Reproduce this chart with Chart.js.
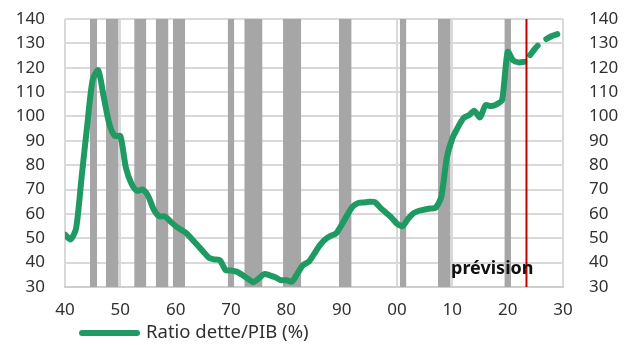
<!DOCTYPE html>
<html lang="fr">
<head>
<meta charset="utf-8">
<title>Ratio dette/PIB</title>
<script src="https://cdn.jsdelivr.net/npm/chart.js@4/dist/chart.umd.min.js"></script>
<style>
  html, body { margin: 0; padding: 0; background: #ffffff; }
  #wrap { width: 624px; height: 345px; position: relative; }
</style>
</head>
<body>
<div id="wrap"><canvas id="chart"></canvas></div>
<script>
// Ratio dette/PIB (%), annual observations
const years = [
  1940, 1941, 1942, 1943, 1944, 1945, 1946, 1947, 1948, 1949,
  1950, 1951, 1952, 1953, 1954, 1955, 1956, 1957, 1958, 1959,
  1960, 1961, 1962, 1963, 1964, 1965, 1966, 1967, 1968, 1969,
  1970, 1971, 1972, 1973, 1974, 1975, 1976, 1977, 1978, 1979,
  1980, 1981, 1982, 1983, 1984, 1985, 1986, 1987, 1988, 1989,
  1990, 1991, 1992, 1993, 1994, 1995, 1996, 1997, 1998, 1999,
  2000, 2001, 2002, 2003, 2004, 2005, 2006, 2007, 2008, 2009,
  2010, 2011, 2012, 2013, 2014, 2015, 2016, 2017, 2018, 2019,
  2020, 2021, 2022, 2023
];
const debtRatio = [
  51.5, 49.5, 54, 75, 96, 115, 119, 108, 97, 92,
  92, 79, 72.5, 69.5, 70, 67.5, 62, 59, 59, 57,
  55, 53.5, 52, 49.5, 47, 44.5, 42, 41.3, 41, 37,
  36.8, 36.3, 35, 33.5, 32, 33.5, 35.3, 34.8, 34, 32.8,
  32.8, 32.2, 35.5, 39, 40.3, 43.5, 47, 49.5, 51, 52,
  55.5, 59.5, 63, 64.5, 64.7, 65, 64.8, 62.5, 60.5, 58.5,
  56, 55, 58, 60.3, 61.3, 61.8, 62.2, 62.6, 67, 83,
  91, 95.5, 99.3, 100.5, 102.3, 99.6, 104.6, 104.3, 105, 106.8,
  126.5, 123, 122.2, 122.4
];

// Forecast path
const forecastYears = [2023, 2024, 2025, 2026, 2027, 2028, 2029];
const forecastRatio = [122.4, 125, 128, 130.3, 131.8, 133, 133.8];

// Start of the forecast horizon (vertical marker)
const forecastStart = 2023.4;

// Recession periods (fractional years)
const recessionStarts = [1944.5, 1947.4, 1952.5, 1956.4, 1959.5, 1969.4, 1972.4, 1979.4, 1989.5, 2000.5, 2007.4, 2019.4];
const recessionEnds   = [1945.8, 1949.7, 1954.7, 1958.7, 1961.7, 1970.6, 1975.7, 1982.7, 1991.8, 2001.7, 2009.7, 2020.6];

// Axis settings
const yMin = 30, yMax = 140, yStep = 10;
const xMin = 1940, xMax = 2030, xStep = 10;

const seriesLabel = 'Ratio dette/PIB (%)';
const forecastLabel = 'prévision';

const GREEN = '#1f9a62';
const GREY_BAR = '#a6a6a6';
const GRID = '#d9d9d9';
const RED = '#c00000';
const TEXT = '#303030';
const FONT = "'Noto Sans', 'DejaVu Sans', sans-serif";

// Build the datasets from the arrays
const historyPoints = years.map((y, i) => ({ x: y, y: debtRatio[i] }));
const forecastPoints = forecastYears.map((y, i) => ({ x: y, y: forecastRatio[i] }));
const recessionPoints = [];
recessionStarts.forEach((s, i) => {
  recessionPoints.push({ x: s, y: yMax });
  recessionPoints.push({ x: recessionEnds[i], y: yMax });
  recessionPoints.push({ x: recessionEnds[i], y: null });
});
const markerPoints = [{ x: forecastStart, y: yMin }, { x: forecastStart, y: yMax }];

// Text annotation and legend drawn on top of the plot
const overlayPlugin = {
  id: 'overlay',
  afterDatasetsDraw(chart) {
    const { ctx, chartArea, scales } = chart;
    ctx.save();
    // "prévision" label, right edge just past the forecast marker
    ctx.font = `bold 18px ${FONT}`;
    ctx.fillStyle = '#111111';
    ctx.textAlign = 'right';
    ctx.textBaseline = 'alphabetic';
    ctx.fillText(forecastLabel, scales.x.getPixelForValue(forecastStart) + 7, chartArea.bottom - 13);
    ctx.restore();
  },
  afterDraw(chart) {
    const { ctx, chartArea } = chart;
    ctx.save();
    const yLeg = 333;
    const x0 = chartArea.left + 17;
    ctx.strokeStyle = GREEN;
    ctx.lineWidth = 6;
    ctx.lineCap = 'round';
    ctx.beginPath();
    ctx.moveTo(x0, yLeg);
    ctx.lineTo(x0 + 55, yLeg);
    ctx.stroke();
    ctx.font = `18.5px ${FONT}`;
    ctx.fillStyle = TEXT;
    ctx.textAlign = 'left';
    ctx.textBaseline = 'middle';
    ctx.fillText(seriesLabel, x0 + 64, yLeg);
    ctx.restore();
  }
};

const tickFont = { family: FONT, size: 17 };

// Fixed axis widths; vertical label padding is handled by the layout padding
const fitVertical = width => s => {
  s.width = width;
  s.paddingTop = 0;
  s.paddingBottom = 0;
};

new Chart(document.getElementById('chart'), {
  type: 'line',
  data: {
    datasets: [
      {
        label: seriesLabel,
        data: historyPoints,
        borderColor: GREEN,
        borderWidth: 6,
        borderCapStyle: 'round',
        borderJoinStyle: 'round',
        pointRadius: 0,
        tension: 0.25,
        fill: false,
        order: 1
      },
      {
        label: forecastLabel,
        data: forecastPoints,
        borderColor: GREEN,
        borderWidth: 6,
        borderCapStyle: 'round',
        borderDash: [12, 11],
        borderDashOffset: 14,
        pointRadius: 0,
        tension: 0.25,
        fill: false,
        order: 1
      },
      {
        label: 'forecast start',
        data: markerPoints,
        borderColor: RED,
        borderWidth: 2,
        pointRadius: 0,
        fill: false,
        order: 0
      },
      {
        label: 'récessions',
        data: recessionPoints,
        borderWidth: 0,
        borderColor: 'rgba(0,0,0,0)',
        backgroundColor: GREY_BAR,
        pointRadius: 0,
        spanGaps: false,
        fill: { value: yMin },
        order: 5
      }
    ]
  },
  options: {
    responsive: true,
    maintainAspectRatio: false,
    animation: false,
    layout: { padding: { top: 19, bottom: 22, left: 0, right: 0 } },
    plugins: {
      legend: { display: false },
      tooltip: { enabled: false }
    },
    scales: {
      x: {
        type: 'linear',
        min: xMin, max: xMax,
        ticks: {
          stepSize: xStep,
          color: TEXT,
          font: tickFont,
          padding: 13,
          callback: v => String(v % 100).padStart(2, '0')
        },
        grid: { color: GRID, lineWidth: 2, drawTicks: false },
        border: { display: true, color: '#cfcfcf', width: 2 },
        afterFit: s => { s.height = 36; }
      },
      y: {
        position: 'left',
        min: yMin, max: yMax,
        ticks: { stepSize: yStep, autoSkip: false, color: TEXT, font: tickFont, padding: 20 },
        grid: { color: GRID, lineWidth: 2, drawTicks: false },
        border: { display: false },
        afterFit: fitVertical(65)
      },
      y2: {
        position: 'right',
        min: yMin, max: yMax,
        ticks: { stepSize: yStep, autoSkip: false, color: TEXT, font: tickFont, padding: 18 },
        grid: { display: false },
        border: { display: false },
        afterFit: fitVertical(61)
      }
    }
  },
  plugins: [overlayPlugin]
});
</script>
</body>
</html>
